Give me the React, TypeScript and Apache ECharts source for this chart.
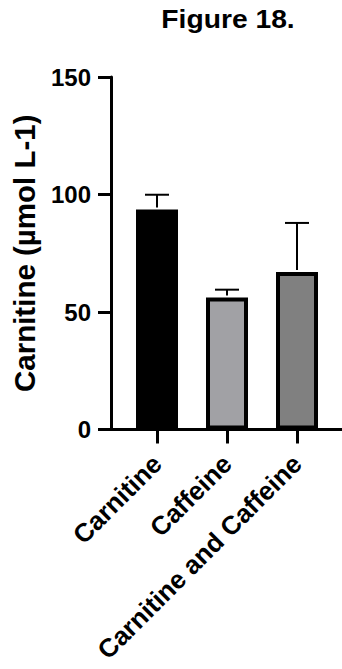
import React, { useEffect, useRef } from "react";
import * as echarts from "echarts";

const categories = ["Carnitine", "Caffeine", "Carnitine and Caffeine"];
const means = [93.6, 56.2, 67.0];
const errors = [6.3, 3.3, 20.9];
const barColors = ["#000000", "#a1a1a5", "#808080"];
const yTicks = { min: 0, max: 150, interval: 50 };
const titleText = "Figure 18.";
const yName = "Carnitine (µmol L-1)";

const FONT = "'Liberation Sans', Arial, Helvetica, sans-serif";

export default function App() {
  const ref = useRef<HTMLDivElement>(null);
  useEffect(() => {
    if (!ref.current) return;
    const chart = echarts.init(ref.current, undefined, { renderer: "svg" });
    const top = 77;
    const bottom = 669 - 429.5;
    chart.setOption({
      animation: false,
      backgroundColor: "#ffffff",
      graphic: [
        {
          type: "text",
          x: 228,
          y: 7,
          scaleX: 1.13,
          originX: 0,
          style: {
            text: titleText,
            fontSize: 25,
            fontWeight: "bold",
            fontFamily: FONT,
            fill: "#000",
            align: "center",
            verticalAlign: "top",
          },
        },
      ],
      grid: [
        { left: 122, width: 210, top, bottom, containLabel: false },
        { left: 111, right: 0, top, bottom, containLabel: false },
      ],
      xAxis: [
        {
          type: "category",
          gridIndex: 0,
          data: categories,
          axisLine: { show: false },
          axisTick: {
            show: true,
            alignWithLabel: true,
            length: 14,
            lineStyle: { color: "#000", width: 3 },
          },
          axisLabel: {
            rotate: 45,
            margin: 30,
            interval: 0,
            fontSize: 26,
            fontWeight: "bold",
            fontFamily: FONT,
            color: "#000",
          },
          splitLine: { show: false },
        },
        {
          type: "value",
          gridIndex: 1,
          min: 0,
          max: 1,
          axisLine: { show: true, onZero: false, lineStyle: { color: "#000", width: 3 } },
          axisTick: { show: false },
          axisLabel: { show: false },
          splitLine: { show: false },
        },
      ],
      yAxis: [
        {
          type: "value",
          gridIndex: 0,
          min: yTicks.min,
          max: yTicks.max,
          interval: yTicks.interval,
          offset: 11,
          name: yName,
          nameLocation: "middle",
          nameGap: 72,
          nameTextStyle: {
            fontSize: 29.5,
            fontWeight: "bold",
            fontFamily: FONT,
            color: "#000",
          },
          axisLine: { show: true, lineStyle: { color: "#000", width: 3 } },
          axisTick: { show: true, length: 13, lineStyle: { color: "#000", width: 3 } },
          axisLabel: {
            margin: 20,
            fontSize: 24,
            fontWeight: "bold",
            fontFamily: FONT,
            color: "#000",
          },
          splitLine: { show: false },
        },
        {
          type: "value",
          gridIndex: 1,
          min: yTicks.min,
          max: yTicks.max,
          show: false,
        },
      ],
      series: [
        {
          type: "bar",
          xAxisIndex: 0,
          yAxisIndex: 0,
          barWidth: 42,
          data: means.map((v, i) => ({
            value: v,
            itemStyle: { color: barColors[i], borderColor: "#000", borderWidth: 4 },
          })),
        },
        {
          type: "custom",
          xAxisIndex: 0,
          yAxisIndex: 0,
          data: means.map((v, i) => [i, v, v + errors[i]]),
          renderItem: (params: any, api: any) => {
            const x = api.value(0);
            const lo = api.coord([x, api.value(1)]);
            const hi = api.coord([x, api.value(2)]);
            const half = 12;
            const style = { stroke: "#000", lineWidth: 2 };
            return {
              type: "group",
              children: [
                { type: "line", shape: { x1: lo[0], y1: lo[1] - 2, x2: hi[0], y2: hi[1] }, style },
                { type: "line", shape: { x1: hi[0] - half, y1: hi[1], x2: hi[0] + half, y2: hi[1] }, style },
              ],
            };
          },
          z: 5,
        },
      ],
    });
    return () => chart.dispose();
  }, []);
  return (
    <div
      ref={ref}
      style={{ position: "fixed", left: 0, top: 0, width: 342, height: 669 }}
    />
  );
}
